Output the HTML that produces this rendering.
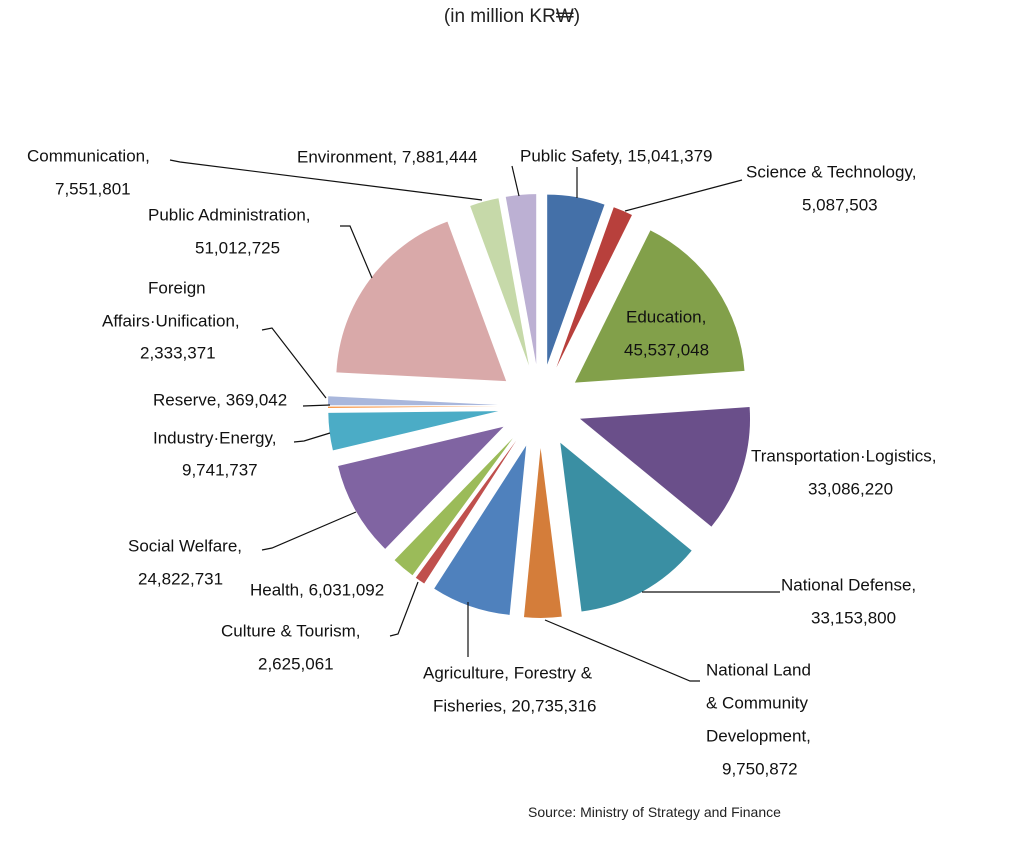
<!DOCTYPE html>
<html><head><meta charset="utf-8"><style>
html,body{margin:0;padding:0;background:#fff;}
svg{display:block;font-family:"Liberation Sans","Noto Sans CJK KR",sans-serif;}
</style></head><body>
<svg width="1029" height="847" viewBox="0 0 1029 847">
<text x="512" y="22" text-anchor="middle" font-size="19" fill="#222">(in million KR₩)</text>
<g id="slices"></g>
<g id="labels" font-size="17" fill="#111">
<g stroke="#111" stroke-width="1.2" fill="none">
<polyline points="170,160 180,162 482,200"/>
<polyline points="512,166 519,196"/>
<polyline points="577,167 577,198"/>
<polyline points="742,180 625,211"/>
<polyline points="340,226 350,226 372,278"/>
<polyline points="262,330 272,328 326,398"/>
<polyline points="303,406 330,405"/>
<polyline points="294,442 304,441 330,433"/>
<polyline points="262,550 272,548 356,512"/>
<polyline points="390,636 398,634 418,582"/>
<polyline points="468,657 468,602"/>
<polyline points="700,681 690,681 545,620"/>
<polyline points="780,592 642,592"/>
</g>
<g dominant-baseline="middle">
<text x="27" y="157">Communication,</text>
<text x="55" y="190">7,551,801</text>
<text x="297" y="158">Environment, 7,881,444</text>
<text x="520" y="157">Public Safety, 15,041,379</text>
<text x="746" y="173">Science &amp; Technology,</text>
<text x="802" y="206">5,087,503</text>
<text x="148" y="216">Public Administration,</text>
<text x="195" y="249">51,012,725</text>
<text x="148" y="289">Foreign</text>
<text x="102" y="322">Affairs·Unification,</text>
<text x="140" y="354">2,333,371</text>
<text x="153" y="401">Reserve, 369,042</text>
<text x="153" y="439">Industry·Energy,</text>
<text x="182" y="471">9,741,737</text>
<text x="626" y="318">Education,</text>
<text x="624" y="351">45,537,048</text>
<text x="751" y="457">Transportation·Logistics,</text>
<text x="808" y="490">33,086,220</text>
<text x="128" y="547">Social Welfare,</text>
<text x="138" y="580">24,822,731</text>
<text x="250" y="591">Health, 6,031,092</text>
<text x="221" y="632">Culture &amp; Tourism,</text>
<text x="258" y="665">2,625,061</text>
<text x="423" y="674">Agriculture, Forestry &amp;</text>
<text x="433" y="707">Fisheries, 20,735,316</text>
<text x="706" y="671">National Land</text>
<text x="706" y="704">&amp; Community</text>
<text x="706" y="737">Development,</text>
<text x="722" y="770">9,750,872</text>
<text x="781" y="586">National Defense,</text>
<text x="811" y="619">33,153,800</text>
</g>
</g>
<text x="528" y="817" font-size="14" fill="#222">Source: Ministry of Strategy and Finance</text>
<script>
const categories=["Public Safety","Science & Technology","Education","Transportation·Logistics","National Defense","National Land & Community Development","Agriculture, Forestry & Fisheries","Culture & Tourism","Health","Social Welfare","Industry·Energy","Reserve","Foreign Affairs·Unification","Public Administration","Communication","Environment"];
const values=[15041379,5087503,45537048,33086220,33153800,9750872,20735316,2625061,6031092,24822731,9741737,369042,2333371,51012725,7551801,7881444];
const colors=["#4470a8","#b8403c","#82a04a","#6a4f8a","#3a8fa3","#d47d3a","#4f81bd","#c0504d","#9bbb59","#8064a2","#4bacc6","#f79646","#a9b7dc","#d9a9a9","#c6d9a9","#bcb0d3"];
const cx=540,cy=406,R=170,EXP=42;
const g=document.getElementById('slices');
const total=values.reduce((a,b)=>a+b,0);
let acc=0;
values.forEach((v,i)=>{
  const a0=acc/total*2*Math.PI; acc+=v; const a1=acc/total*2*Math.PI;
  const mid=(a0+a1)/2;
  const ox=cx+EXP*Math.sin(mid), oy=cy-EXP*Math.cos(mid);
  const x0=ox+R*Math.sin(a0), y0=oy-R*Math.cos(a0);
  const x1=ox+R*Math.sin(a1), y1=oy-R*Math.cos(a1);
  const large=(a1-a0)>Math.PI?1:0;
  const p=document.createElementNS('http://www.w3.org/2000/svg','path');
  p.setAttribute('d',`M${ox},${oy}L${x0},${y0}A${R},${R} 0 ${large} 1 ${x1},${y1}Z`);
  p.setAttribute('fill',colors[i]);
  
  
  g.appendChild(p);
});
</script>
</svg>
</body></html>
